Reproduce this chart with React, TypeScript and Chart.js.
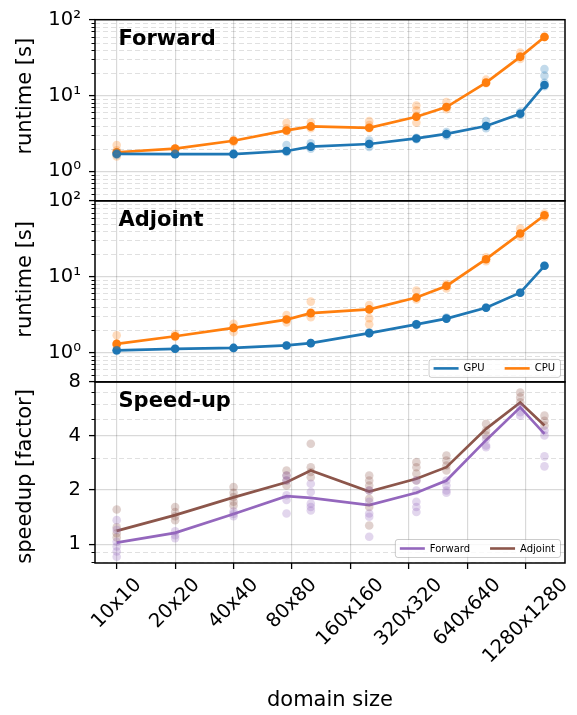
import React, { useEffect, useRef } from 'react';
import { Chart, registerables } from 'chart.js';

Chart.register(...registerables);

const FONT = "'DejaVu Sans', sans-serif";
const TICK_FONT_SIZE = 19.5;

const DOMAIN_SIZES = [10, 20, 40, 75, 100, 200, 350, 500, 800, 1200, 1600];
const X_TICK_VALUES = [10, 20, 40, 80, 160, 320, 640, 1280];
const X_TICK_LABELS = ['10x10', '20x20', '40x40', '80x80', '160x160', '320x320', '640x640', '1280x1280'];

const RUNTIME_TICKS = [1, 10, 100];
const RUNTIME_TICK_LABELS = ['10⁰', '10¹', '10²'];
const RUNTIME_MINOR = [0.5, 0.6, 0.7, 0.8, 0.9, 2, 3, 4, 5, 6, 7, 8, 9, 20, 30, 40, 50, 60, 70, 80, 90];
const SPEEDUP_TICKS = [1, 2, 4, 8];
const SPEEDUP_TICK_LABELS = ['1', '2', '4', '8'];
const SPEEDUP_MINOR = [0.8, 0.9, 3, 5, 6, 7];

const PANEL_TITLES = ['Forward', 'Adjoint', 'Speed-up'];
const Y_TITLES = ['runtime [s]', 'runtime [s]', 'speedup [factor]'];
const RUNTIME_LEGEND = ['GPU', 'CPU'];
const SPEEDUP_LEGEND = ['Forward', 'Adjoint'];

// Forward runtimes [s]
const FWD_GPU_MEAN = [1.70, 1.69, 1.69, 1.86, 2.12, 2.30, 2.72, 3.12, 3.97, 5.75, 13.8];
const FWD_CPU_MEAN = [1.79, 2.00, 2.54, 3.47, 3.92, 3.76, 5.25, 7.05, 14.8, 32.4, 59.1];
const FWD_GPU_RUNS = [[1.70, 1.65, 1.76], [1.69, 1.72], [1.69, 1.72], [2.23, 1.86, 1.80], [2.35, 2.12, 2.0], [2.55, 2.32, 2.1], [2.78, 2.65], [3.3, 2.95, 3.1], [4.6, 4.0, 3.7], [6.0, 5.6], [22.4, 18.3, 14.7, 13.3]];
const FWD_CPU_RUNS = [[2.23, 1.9, 1.57], [2.0, 1.95], [2.6, 2.45], [4.36, 3.7, 3.4], [4.4, 3.9, 3.7], [4.6, 4.1, 3.7], [7.4, 6.4, 5.4, 4.4], [8.2, 7.0, 6.6], [16.2, 14.5], [36.9, 33, 30.3], [59, 60]];

// Adjoint runtimes [s]
const ADJ_GPU_MEAN = [1.07, 1.12, 1.15, 1.24, 1.33, 1.80, 2.35, 2.80, 3.90, 6.15, 13.9];
const ADJ_CPU_MEAN = [1.30, 1.64, 2.11, 2.72, 3.31, 3.70, 5.30, 7.55, 17.0, 37.0, 64.5];
const ADJ_GPU_RUNS = [[1.07, 1.05], [1.12], [1.15], [1.24], [1.33], [1.80, 1.85], [2.37, 2.30], [2.81, 2.9], [3.91], [6.14], [13.9]];
const ADJ_CPU_RUNS = [[1.69, 1.31, 1.25], [1.75, 1.6], [2.39, 1.86, 2.1], [3.13, 2.5], [4.69, 2.92, 3.4], [4.23, 2.84, 2.35], [6.58, 5.0], [8.0, 7.0], [18.0, 16.0], [43.1, 33.6], [68, 61]];

// Speed-up factors
const FWD_SPEEDUP_MEAN = [1.02, 1.155, 1.47, 1.85, 1.81, 1.65, 1.93, 2.26, 3.79, 5.77, 4.11];
const ADJ_SPEEDUP_MEAN = [1.185, 1.45, 1.82, 2.21, 2.57, 1.96, 2.31, 2.68, 4.38, 6.15, 4.57];
const FWD_SPEEDUP_RUNS = [[1.36, 1.2, 1.03, 0.97, 0.91, 0.85], [1.18, 1.12, 1.08], [1.52, 1.47, 1.43], [2.41, 2.26, 1.87, 1.76, 1.48], [2.17, 1.95, 1.68, 1.61, 1.54], [1.99, 1.72, 1.48, 1.42, 1.10], [2.26, 1.99, 1.72, 1.61, 1.51], [2.26, 2.12, 1.99, 1.93], [3.85, 3.54, 3.46], [5.77, 5.42, 5.19], [4.29, 4.03, 3.08, 2.71]];
const ADJ_SPEEDUP_RUNS = [[1.56, 1.24, 1.15, 1.09], [1.61, 1.51, 1.43, 1.36], [2.08, 1.93, 1.83, 1.72, 1.64], [2.57, 2.41, 2.26, 2.12], [3.62, 2.68, 2.52, 2.36], [2.41, 2.26, 2.12, 1.99, 1.79, 1.61, 1.27], [2.86, 2.68, 2.47, 2.26], [3.11, 2.92, 2.74, 2.57], [4.67, 4.29, 4.03], [6.99, 6.56, 6.16], [5.19, 4.86, 4.57]];

const BLUE = '#1f77b4';
const ORANGE = '#ff7f0e';
const PURPLE = '#9467bd';
const BROWN = '#8c564b';

function rgba(hex: string, a: number) {
  const n = parseInt(hex.slice(1), 16);
  return `rgba(${(n >> 16) & 255},${(n >> 8) & 255},${n & 255},${a})`;
}

function runsToPoints(runs: number[][]) {
  const pts: { x: number; y: number }[] = [];
  runs.forEach((arr, i) => arr.forEach((v) => pts.push({ x: DOMAIN_SIZES[i], y: v })));
  return pts;
}

function meanToPoints(m: number[]) {
  return DOMAIN_SIZES.map((x, i) => ({ x, y: m[i] }));
}

function scatterSet(runs: number[][], color: string, yAxisID: string) {
  return {
    type: 'scatter',
    data: runsToPoints(runs),
    xAxisID: 'x',
    yAxisID,
    pointRadius: 4.3,
    pointHoverRadius: 4.3,
    backgroundColor: rgba(color, 0.27),
    pointBackgroundColor: rgba(color, 0.27),
    borderWidth: 0,
    pointBorderWidth: 0,
    showLine: false,
  };
}

function lineSet(mean: number[], color: string, yAxisID: string, markers: boolean) {
  return {
    type: 'line',
    data: meanToPoints(mean),
    xAxisID: 'x',
    yAxisID,
    borderColor: color,
    backgroundColor: color,
    borderWidth: 2.7,
    pointRadius: markers ? 4.3 : 0,
    pointHoverRadius: markers ? 4.3 : 0,
    pointBorderWidth: 0,
    pointBackgroundColor: color,
    tension: 0,
    fill: false,
  };
}

function yAxis(min: number, max: number, majors: number[], labels: string[]) {
  return {
    type: 'logarithmic',
    position: 'left',
    stack: 'panels',
    stackWeight: 1,
    min,
    max,
    afterBuildTicks: (s: any) => {
      s.ticks = majors.map((v) => ({ value: v }));
    },
    afterFit: (s: any) => {
      s.width = 95;
    },
    ticks: {
      callback: (v: any) => {
        const i = majors.indexOf(Number(v));
        return i >= 0 ? labels[i] : '';
      },
      font: { family: FONT, size: TICK_FONT_SIZE },
      color: '#000',
      padding: 8,
      autoSkip: false,
    },
    grid: {
      color: 'rgba(0,0,0,0.15)',
      lineWidth: 1.2,
      tickLength: 6,
      tickColor: '#000',
      tickWidth: 1.3,
      drawTicks: true,
    },
    border: { display: false },
    title: { display: false },
  };
}

function drawLegend(ctx: CanvasRenderingContext2D, right: number, bottom: number, labels: string[], colors: string[]) {
  ctx.save();
  ctx.font = `10px ${FONT}`;
  const padX = 5, handle = 25, gap = 5, col = 20, h = 18;
  const widths = labels.map((l) => ctx.measureText(l).width);
  const total = padX * 2 + widths.reduce((a, w) => a + handle + gap + w, 0) + col * (labels.length - 1);
  const x0 = right - total;
  const y0 = bottom - h;
  ctx.beginPath();
  (ctx as any).roundRect(x0 + 0.5, y0 + 0.5, total, h, 2.5);
  ctx.fillStyle = 'rgba(255,255,255,0.8)';
  ctx.fill();
  ctx.strokeStyle = 'rgba(0,0,0,0.2)';
  ctx.lineWidth = 1;
  ctx.stroke();
  let x = x0 + padX;
  const cy = y0 + h / 2 + 0.5;
  labels.forEach((label, i) => {
    ctx.strokeStyle = colors[i];
    ctx.lineWidth = 2.6;
    ctx.beginPath();
    ctx.moveTo(x, cy);
    ctx.lineTo(x + handle, cy);
    ctx.stroke();
    ctx.fillStyle = '#000';
    ctx.textBaseline = 'middle';
    ctx.textAlign = 'left';
    ctx.fillText(label, x + handle + gap, cy + 0.5);
    x += handle + gap + widths[i] + col;
  });
  ctx.restore();
}

const panelPlugin = {
  id: 'panelDecor',
  beforeDatasetsDraw(chart: any) {
    const { ctx, chartArea } = chart;
    const sets: [string, number[]][] = [['yF', RUNTIME_MINOR], ['yA', RUNTIME_MINOR], ['yS', SPEEDUP_MINOR]];
    ctx.save();
    for (const [id, minors] of sets) {
      const s = chart.scales[id];
      for (const v of minors) {
        if (v <= s.min || v >= s.max) continue;
        const y = Math.round(s.getPixelForValue(v)) + 0.5;
        ctx.strokeStyle = 'rgba(0,0,0,0.12)';
        ctx.lineWidth = 1;
        ctx.setLineDash([5, 3]);
        ctx.beginPath();
        ctx.moveTo(chartArea.left, y);
        ctx.lineTo(chartArea.right, y);
        ctx.stroke();
        ctx.setLineDash([]);
        ctx.strokeStyle = '#000';
        ctx.beginPath();
        ctx.moveTo(chartArea.left - 3.5, y);
        ctx.lineTo(chartArea.left, y);
        ctx.stroke();
      }
    }
    ctx.restore();
  },
  afterDatasetsDraw(chart: any) {
    const { ctx, chartArea } = chart;
    const ids = ['yF', 'yA', 'yS'];
    const titleShift = [-14, -12, 4];
    ctx.save();
    ids.forEach((id, i) => {
      const s = chart.scales[id];
      ctx.font = `bold 21px ${FONT}`;
      ctx.fillStyle = '#000';
      ctx.textAlign = 'left';
      ctx.textBaseline = 'alphabetic';
      ctx.fillText(PANEL_TITLES[i], chartArea.left + 23.5, s.top + 25);
      // y-axis title
      ctx.save();
      ctx.font = `21px ${FONT}`;
      ctx.textAlign = 'center';
      ctx.textBaseline = 'middle';
      ctx.translate(26, (s.top + s.bottom) / 2 + titleShift[i]);
      ctx.rotate(-Math.PI / 2);
      ctx.fillText(Y_TITLES[i], 0, 0);
      ctx.restore();
    });
    drawLegend(ctx, chartArea.right - 5, chart.scales.yA.bottom - 5, RUNTIME_LEGEND, [BLUE, ORANGE]);
    drawLegend(ctx, chartArea.right - 5, chart.scales.yS.bottom - 6, SPEEDUP_LEGEND, [PURPLE, BROWN]);
    ctx.strokeStyle = '#000';
    ctx.lineWidth = 1.5;
    ids.forEach((id) => {
      const s = chart.scales[id];
      ctx.strokeRect(chartArea.left, s.top, chartArea.right - chartArea.left, s.bottom - s.top);
    });
    const xs = chart.scales.x;
    ctx.font = `${TICK_FONT_SIZE}px ${FONT}`;
    ctx.fillStyle = '#000';
    ctx.textAlign = 'center';
    ctx.textBaseline = 'middle';
    const topY = chartArea.bottom + 6 + 6;
    X_TICK_VALUES.forEach((v, i) => {
      const px = xs.getPixelForValue(v);
      const w = ctx.measureText(X_TICK_LABELS[i]).width;
      const W = (w + TICK_FONT_SIZE) * Math.SQRT1_2;
      ctx.save();
      ctx.translate(px, topY + W / 2);
      ctx.rotate(-Math.PI / 4);
      ctx.fillText(X_TICK_LABELS[i], 0, 0);
      ctx.restore();
    });
    ctx.restore();
  },
};

export default function App() {
  const ref = useRef<HTMLCanvasElement>(null);
  useEffect(() => {
    const datasets: any[] = [
      scatterSet(FWD_GPU_RUNS, BLUE, 'yF'),
      scatterSet(FWD_CPU_RUNS, ORANGE, 'yF'),
      lineSet(FWD_GPU_MEAN, BLUE, 'yF', true),
      lineSet(FWD_CPU_MEAN, ORANGE, 'yF', true),
      scatterSet(ADJ_GPU_RUNS, BLUE, 'yA'),
      scatterSet(ADJ_CPU_RUNS, ORANGE, 'yA'),
      lineSet(ADJ_GPU_MEAN, BLUE, 'yA', true),
      lineSet(ADJ_CPU_MEAN, ORANGE, 'yA', true),
      scatterSet(FWD_SPEEDUP_RUNS, PURPLE, 'yS'),
      scatterSet(ADJ_SPEEDUP_RUNS, BROWN, 'yS'),
      lineSet(FWD_SPEEDUP_MEAN, PURPLE, 'yS', false),
      lineSet(ADJ_SPEEDUP_MEAN, BROWN, 'yS', false),
    ];
    const chart = new Chart(ref.current as HTMLCanvasElement, {
      type: 'line',
      data: { datasets },
      options: {
        responsive: false,
        animation: false,
        devicePixelRatio: 1,
        events: [],
        layout: { padding: { top: 14, right: 12, bottom: 0, left: 0 } },
        plugins: { legend: { display: false }, tooltip: { enabled: false } },
        scales: {
          x: {
            type: 'logarithmic',
            position: 'bottom',
            min: 7.73,
            max: 2041,
            afterBuildTicks: (s: any) => {
              s.ticks = X_TICK_VALUES.map((v) => ({ value: v }));
            },
            afterFit: (s: any) => {
              s.height = 152;
            },
            ticks: { display: false },
            grid: {
              color: 'rgba(0,0,0,0.15)',
              lineWidth: 1.2,
              tickLength: 6,
              tickColor: '#000',
              tickWidth: 1.3,
            },
            border: { display: false },
            title: {
              display: true,
              text: 'domain size',
              font: { family: FONT, size: 21 },
              color: '#000',
              padding: { top: 0, bottom: 2 },
            },
          },
          // left-stacked axes are laid out last-defined on top
          yS: yAxis(0.785, 8, SPEEDUP_TICKS, SPEEDUP_TICK_LABELS),
          yA: yAxis(0.41, 100, RUNTIME_TICKS, RUNTIME_TICK_LABELS),
          yF: yAxis(0.41, 100, RUNTIME_TICKS, RUNTIME_TICK_LABELS),
        } as any,
      },
      plugins: [panelPlugin as any],
    } as any);
    return () => chart.destroy();
  }, []);
  return (
    <div style={{ position: 'absolute', left: 0, top: 0, width: 577, height: 715, background: '#fff' }}>
      <canvas ref={ref} width={577} height={715} style={{ display: 'block', width: 577, height: 715 }} />
    </div>
  );
}
